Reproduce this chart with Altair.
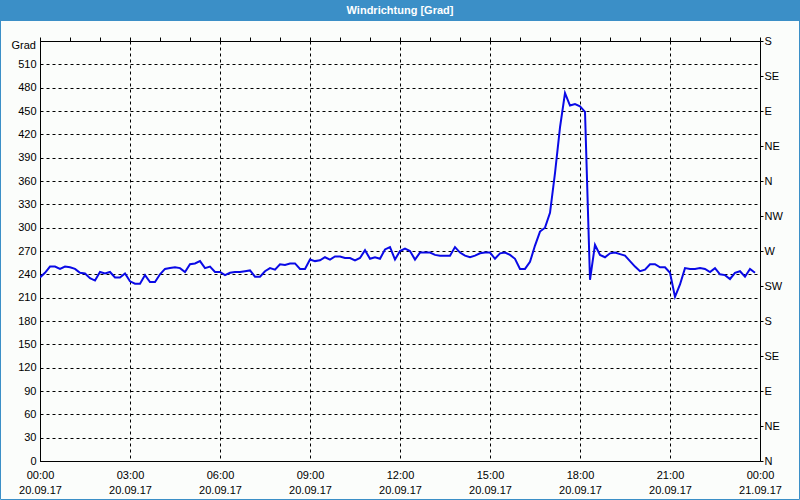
import altair as alt
import pandas as pd

# Wind direction readings every 10 minutes, 20.09.17 00:00 .. 23:50
values = [
    236, 242, 250, 250, 247, 250, 249, 247, 242, 241, 235, 232,
    243, 241, 243, 236, 236, 241, 231, 228, 228, 239, 230, 230,
    240, 247, 248, 249, 248, 243, 253, 254, 257, 248, 250, 243,
    243, 239, 242, 243, 243, 244, 245, 237, 237, 244, 248, 246,
    253, 252, 254, 254, 247, 247, 259, 257, 258, 262, 259, 263,
    263, 261, 261, 258, 261, 271, 260, 262, 260, 272, 275, 259,
    270, 273, 270, 259, 268, 268, 268, 265, 264, 264, 264, 275,
    268, 264, 262, 264, 267, 268, 268, 260, 267, 268, 265, 260,
    247, 247, 256, 277, 295, 300, 319, 370, 429, 473, 457, 459,
    456, 449, 233, 278, 265, 262, 267, 268, 266, 264, 257, 250,
    244, 246, 253, 253, 249, 249, 242, 211, 227, 248, 247, 247,
    248, 247, 243, 248, 240, 239, 234, 242, 244, 237, 247, 242,
]
step_minutes = 10
left_ticks = list(range(0, 540, 30))
right_ticks = list(range(0, 541, 45))
compass = ["N", "NE", "E", "SE", "S", "SW", "W", "NW"]
hour_labels = list(range(0, 25, 3))
hour_ticks = list(range(0, 25, 1))
title_text = "Windrichtung [Grad]"
unit_text = "Grad"

df = pd.DataFrame({
    "h": [i * step_minutes / 60 for i in range(len(values))],
    "v": values,
})

FONT = "Liberation Sans"
BLUE = "#3b8fc7"
xscale = alt.Scale(domain=[0, 24], nice=False, zero=False)
yscale = alt.Scale(domain=[0, 540], nice=False, zero=True)

base = alt.Chart(df)

line = base.mark_line(color="#0a0ae6", strokeWidth=2, clip=True).encode(
    x=alt.X("h:Q", scale=xscale, axis=alt.Axis(
        values=hour_labels, title=None, grid=True, gridColor="black",
        gridDash=[3, 3], gridWidth=1, ticks=False, domain=True,
        domainColor="black", labelFont=FONT, labelFontSize=11,
        labelColor="black", labelPadding=8, labelLineHeight=15,
        labelOverlap=False, labelFlush=False, labelBaseline="top",
        labelExpr="[(datum.value % 24 < 10 ? '0' : '') + (datum.value % 24) + ':00', datum.value < 24 ? '20.09.17' : '21.09.17']",
    )),
    y=alt.Y("v:Q", scale=yscale, axis=alt.Axis(
        values=left_ticks, title=None, orient="left", grid=True,
        gridColor="black", gridDash=[3, 3], gridWidth=1, ticks=False,
        domain=True, domainColor="black", labelFont=FONT, labelFontSize=11,
        labelColor="black", labelPadding=4, labelOverlap=False,
    )),
)

ticks_layer = base.mark_point(opacity=0).encode(
    x=alt.X("h:Q", scale=xscale, axis=alt.Axis(
        values=hour_ticks, title=None, grid=False, labels=False,
        ticks=True, tickSize=4, tickColor="black", domain=False,
    )),
    y=alt.Y("v:Q", scale=yscale, axis=alt.Axis(
        values=right_ticks, title=None, orient="right", grid=False,
        ticks=True, tickSize=3, tickColor="black", domain=True,
        domainColor="black", labelFont=FONT, labelFontSize=11,
        labelColor="black", labelPadding=1, labelOverlap=False,
        labelExpr="['N','NE','E','SE','S','SW','W','NW'][(datum.value / 45) % 8]",
    )),
)

title_bar = alt.Chart(df.head(1)).mark_rect(color=BLUE, clip=False).encode(
    x=alt.value(-40), x2=alt.value(760), y=alt.value(-41), y2=alt.value(-20)
)
border = alt.Chart(df.head(1)).mark_rect(
    filled=False, stroke=BLUE, strokeWidth=1, clip=False
).encode(
    x=alt.value(-39.5), x2=alt.value(759.5), y=alt.value(-40.5), y2=alt.value(458.5)
)
title = alt.Chart(pd.DataFrame({"t": [title_text]})).mark_text(
    font=FONT, fontSize=11, fontWeight="bold", color="white",
    align="center", baseline="middle", clip=False,
).encode(x=alt.value(360), y=alt.value(-30), text="t:N")
unit = alt.Chart(pd.DataFrame({"t": [unit_text]})).mark_text(
    font=FONT, fontSize=11, color="black", align="right",
    baseline="middle", clip=False,
).encode(x=alt.value(-4), y=alt.value(5), text="t:N")

chart = alt.layer(title_bar, border, line, ticks_layer, title, unit).resolve_axis(
    x="independent", y="independent"
).properties(
    width=720, height=420,
    padding={"left": 40, "top": 41, "right": 40, "bottom": 39},
    autosize=alt.AutoSizeParams(type="none"),
    background="#fbfdfb",
).configure_view(stroke="black", strokeWidth=1)

chart.save("out.html", embed_options={"renderer": "svg", "actions": False})
